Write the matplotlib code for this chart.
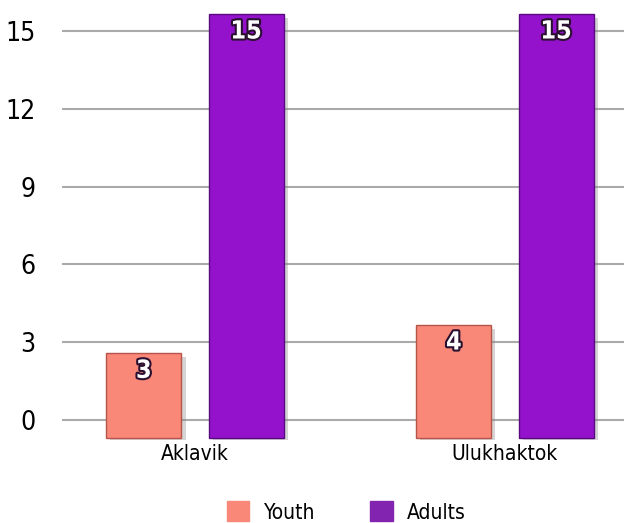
import matplotlib.pyplot as plt
import matplotlib.patheffects as pe
from matplotlib.patches import Patch
import numpy as np

plt.rcParams['font.family'] = ['DejaVu Sans']
plt.rcParams['font.stretch'] = 'condensed'

communities = ['Aklavik', 'Ulukhaktok']
youth = [3, 4]
adults = [15, 15]
y_ticks = [0, 3, 6, 9, 12, 15]

youth_color = '#F98878'
adults_color = '#9412CC'

fig = plt.figure(figsize=(6.24, 5.23), dpi=100)
pos = [62 / 624, 1 - 440 / 523, 562 / 624, 440 / 523]

# grid axes (tick labels + horizontal lines)
ax = fig.add_axes(pos)
ax.set_ylim(-0.771, 16.2)
ax.set_xlim(0, 1)
ax.set_yticks(y_ticks)
ax.set_yticklabels([str(t) for t in y_ticks], fontsize=19)
ax.tick_params(axis='y', length=0, pad=19)
ax.set_xticks([])
for t in y_ticks:
    ax.axhline(t, color='#aaaaaa', lw=1.5, zorder=0)
for s in ax.spines.values():
    s.set_visible(False)

# bar axes on top
bx = fig.add_axes(pos, facecolor='none')
bx.set_ylim(-0.071, 15.49)
bx.set_xlim(-0.429, 1.384)
x = np.arange(len(communities))
w = 0.242
off = 0.165
shadow = [pe.SimplePatchShadow(offset=(3, -3), shadow_rgbFace='#888888', alpha=0.35), pe.Normal()]
b1 = bx.bar(x - off, youth, w, color=youth_color, edgecolor='#b5554a', lw=1, path_effects=shadow)
b2 = bx.bar(x + off, adults, w, color=adults_color, edgecolor='#5a0a80', lw=1, path_effects=shadow)
bx.set_yticks([])
bx.set_xticks(x)
bx.set_xticklabels(communities, fontsize=15)
bx.tick_params(axis='x', length=0, pad=3)
for s in bx.spines.values():
    s.set_visible(False)

lbl_fx = [pe.withStroke(linewidth=3, foreground='#2a1030')]
for xi, v in zip(x - off, youth):
    bx.text(xi, v - 0.2, str(v), ha='center', va='top', color='white',
            fontsize=18, fontweight='bold', path_effects=lbl_fx)
for xi, v in zip(x + off, adults):
    bx.text(xi, v - 0.2, str(v), ha='center', va='top', color='white',
            fontsize=18, fontweight='bold', path_effects=lbl_fx)

handles = [Patch(color=youth_color), Patch(color='#8224B0')]
fig.legend(handles, ['Youth', 'Adults'], loc='lower center', bbox_to_anchor=(0.555, -0.035),
           ncol=2, frameon=False, fontsize=15, handlelength=1.1, handleheight=1.1,
           handletextpad=0.7, columnspacing=2.6)

plt.savefig('out.png', dpi=100)
